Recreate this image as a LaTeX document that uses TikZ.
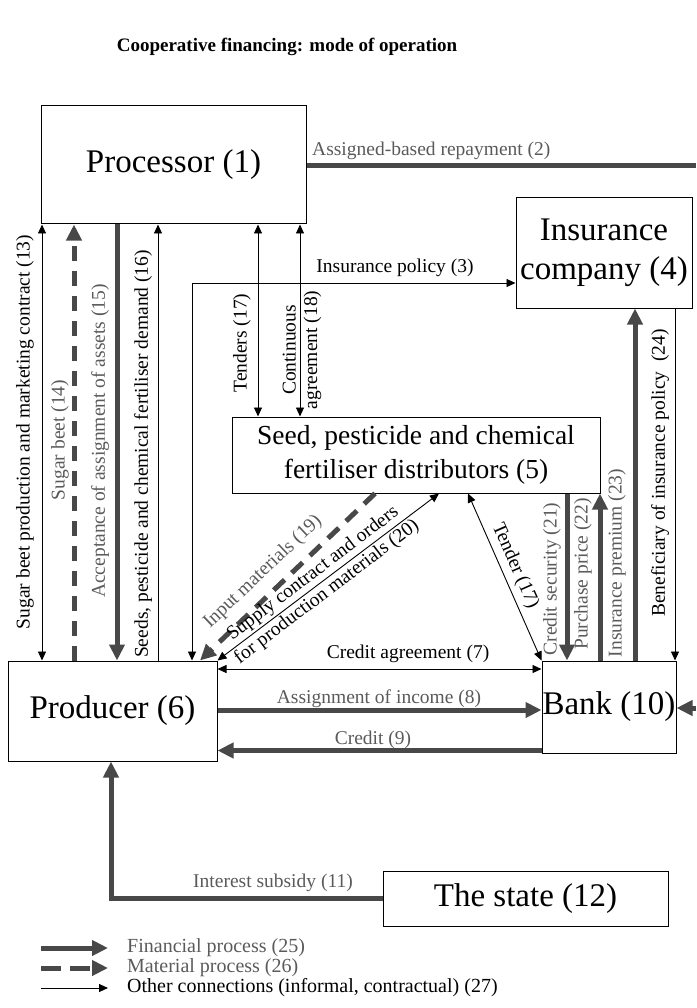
\documentclass[tikz,border=0pt]{standalone}
\usepackage{fontspec}
\setmainfont{Liberation Serif}
\usetikzlibrary{arrows.meta,calc}
\definecolor{fincol}{HTML}{484848}
\definecolor{labgray}{HTML}{5A5A5A}
\begin{document}
\begin{tikzpicture}[x=1pt,y=-1pt,
 box/.style={draw, line width=1pt, rectangle, inner sep=0pt, align=center, font=\fontsize{33}{39}\selectfont},
 lab/.style={inner sep=0pt, align=center, font=\fontsize{19.5}{21.5}\selectfont},
 glab/.style={lab, text=labgray},
 leg/.style={inner sep=0pt, anchor=west, font=\fontsize{20}{22}\selectfont},
 conn/.style={line width=0.9pt, >={Triangle[length=9pt,width=8pt]}},
 fin/.style={line width=5pt, draw=fincol, >={Triangle[length=16pt,width=15pt]}},
 mat/.style={fin, dash pattern=on 15pt off 10pt},
]
\useasboundingbox (0,0) rectangle (696,1008);

% title
\node[inner sep=0pt, font=\bfseries\fontsize{19}{22}\selectfont] (title) at (287,47) {Cooperative financing: mode of operation};

% boxes
\node[box, minimum width=265pt, minimum height=118pt] (proc) at (173.5,165) {Processor (1)};
\node[box, minimum width=176pt, minimum height=110pt] (ins) at (604,253) {Insurance\\company (4)};
\node[box, minimum width=368pt, minimum height=76pt, font=\fontsize{27.5}{34}\selectfont] (dist) at (416,455) {Seed, pesticide and chemical\\fertiliser distributors (5)};
\node[box, minimum width=209pt, minimum height=100pt] (prod) at (112.5,711) {Producer (6)};
\node[box, minimum width=134pt, minimum height=92pt] (bank) at (609,707) {Bank (10)};
\node[box, minimum width=285pt, minimum height=55pt] (state) at (525.5,898.5) {The state (12)};

% (2)
\draw[fin] (proc.east |- 0,166) -- (696,166);
\node[glab, anchor=west] (l2) at (312,151) {Assigned-based repayment (2)};

% (3)
\draw[conn,<->] (192,0 |- prod.north) -- (192,283) -- (ins.west |- 0,283);
\node[lab] (l3) at (395,268) {Insurance policy (3)};

% processor <-> producer
\draw[conn,<->] (42,0 |- proc.south) -- (42,0 |- prod.north);
\node[lab, rotate=90] (l13) at (25,432) {Sugar beet production and marketing contract (13)};
\draw[mat,->] (74,0 |- prod.north) -- (74,0 |- proc.south);
\node[glab, rotate=90] (l14) at (60,440) {Sugar beet (14)};
\draw[fin,->] (117,0 |- proc.south) -- (117,0 |- prod.north);
\node[glab, rotate=90] (l15) at (100,441) {Acceptance of assignment of assets (15)};
\draw[conn,->] (158,0 |- prod.north) -- (158,0 |- proc.south);
\node[lab, rotate=90] (l16) at (143,454) {Seeds, pesticide and chemical fertiliser demand (16)};

% processor <-> distributors
\draw[conn,<->] (258,0 |- proc.south) -- (258,0 |- dist.north);
\node[lab, rotate=90] (l17a) at (242,343) {Tenders (17)};
\draw[conn,<->] (300,0 |- proc.south) -- (300,0 |- dist.north);
\node[lab, rotate=90] (l18) at (302,350) {Continuous\\agreement (18)};

% distributors <-> producer
\draw[mat,->] (375,0 |- dist.south) -- (200,0 |- prod.north);
\node[glab, rotate=43.5] (l19) at (263,572) {Input materials (19)};
\draw[conn,<->] (439,0 |- dist.south) -- (prod.north east);
\node[lab, rotate=37.1, font=\fontsize{19.5}{23}\selectfont] (l20) at (320,583) {Supply contract and orders\\for production materials (20)};

% distributors <-> bank
\draw[conn,<->] (468,0 |- dist.south) -- (bank.north west);
\node[lab, rotate=-66.2] (l17b) at (515,566) {Tender (17)};
\draw[fin,->] (567,0 |- dist.south) -- (567,0 |- bank.north);
\node[glab, rotate=90] (l21) at (552,579) {Credit security (21)};
\draw[fin,->] (600,0 |- bank.north) -- (600,0 |- dist.south);
\node[glab, rotate=90] (l22) at (583,574) {Purchase price (22)};

% bank <-> insurance
\draw[fin,->] (635,0 |- bank.north) -- (635,0 |- ins.south);
\node[glab, rotate=90] (l23) at (617,563) {Insurance premium (23)};
\draw[conn,->] (675,0 |- ins.south) -- (675,0 |- bank.north);
\node[lab, rotate=90] (l24) at (660,473) {Beneficiary of insurance policy\ \ (24)};

% producer <-> bank
\draw[conn,<->] (prod.east |- 0,669) -- (bank.west |- 0,669);
\node[lab] (l7) at (408,654) {Credit agreement (7)};
\draw[fin,->] (prod.east |- 0,710) -- (bank.west |- 0,710);
\node[glab] (l8) at (379,699) {Assignment of income (8)};
\draw[fin,->] (bank.west |- 0,750.5) -- (prod.east |- 0,750.5);
\node[glab] (l9) at (373,740) {Credit (9)};

% incoming arrow on bank right
\coordinate (redge) at (696,708);
\draw[fin,->] (redge) -- (bank.east |- redge);

% state -> producer
\draw[fin,->] (state.west |- 0,898) -- (111,898) -- (111,0 |- prod.south);
\node[glab] (l11) at (273,883) {Interest subsidy (11)};

% legend
\coordinate (lg1a) at (41,948); \coordinate (lg1b) at (108,948);
\coordinate (lg2a) at (41,968); \coordinate (lg2b) at (108,968);
\coordinate (lg3a) at (41,988); \coordinate (lg3b) at (108,988);
\draw[fin,->] (lg1a) -- (lg1b);
\draw[mat,dash pattern=on 20pt off 9pt,->] (lg2a) -- (lg2b);
\draw[conn,->] (lg3a) -- (lg3b);
\node[leg, text=labgray] (lt1) at (127,948) {Financial process (25)};
\node[leg, text=labgray] (lt2) at (127,968) {Material process (26)};
\node[leg] (lt3) at (127,988) {Other connections (informal, contractual) (27)};
\end{tikzpicture}
\end{document}
